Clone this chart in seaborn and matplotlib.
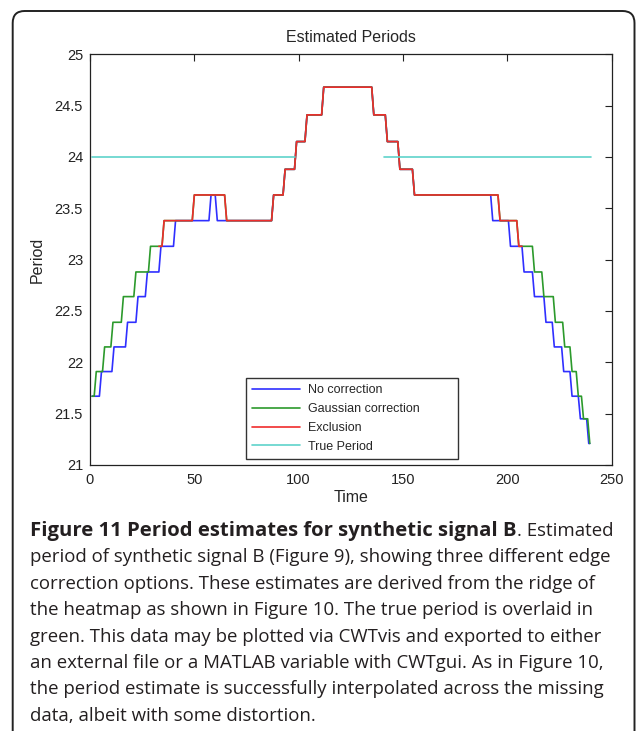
import numpy as np
import pandas as pd
import matplotlib
matplotlib.use("Agg")
import matplotlib.pyplot as plt
import seaborn as sns
from matplotlib.patches import FancyBboxPatch
from matplotlib.transforms import IdentityTransform
from matplotlib.ticker import FormatStrFormatter

# step estimates: each level holds from TIME[i] until TIME[i+1]
NOCORR_TIME = [1, 4.5, 10.5, 17, 22, 26.5, 33, 40, 57, 60, 87, 92.5, 98, 103, 111,
               135, 141.5, 147.5, 154.5, 192, 200.5, 207, 212, 217.5, 221.5, 226,
               230, 234, 238, 239.5]
NOCORR_PERIOD = [21.67, 21.91, 22.15, 22.39, 22.64, 22.88, 23.13, 23.38, 23.63, 23.38,
                 23.63, 23.88, 24.15, 24.41, 24.68, 24.41, 24.15, 23.88, 23.63, 23.38,
                 23.13, 22.88, 22.64, 22.39, 22.15, 21.91, 21.67, 21.45, 21.21]

GAUSS_TIME = [1, 2, 6, 10, 15, 21, 28, 34.5, 49, 64.5, 87, 92.5, 98, 103, 111,
              135, 141.5, 147.5, 154.5, 195.5, 204.5, 212, 216.5, 222, 226.5, 230,
              233, 235.5, 238.5, 239.5]
GAUSS_PERIOD = NOCORR_PERIOD[:8] + [23.63, 23.38] + NOCORR_PERIOD[10:]

EXCL_TIME = [33, 34.5, 49, 64.5, 87, 92.5, 98, 103, 111, 135, 141.5, 147.5, 154.5,
             195.5, 204.5, 207]
EXCL_PERIOD = [23.13, 23.38, 23.63, 23.38, 23.63, 23.88, 24.15, 24.41, 24.68, 24.41,
               24.15, 23.88, 23.63, 23.38, 23.13]

TRUE_SPANS = [(1, 98), (141, 240)]
TRUE_PERIOD = 24.0

SERIES = ["No correction", "Gaussian correction", "Exclusion", "True Period"]
COLORS = ["#2f2fff", "#2c9a2c", "#f02c2c", "#5fd3cb"]

CAPTION_BOLD = "Figure 11 Period estimates for synthetic signal B"
CAPTION_LINES = [
    ". Estimated",
    "period of synthetic signal B (Figure 9), showing three different edge",
    "correction options. These estimates are derived from the ridge of",
    "the heatmap as shown in Figure 10. The true period is overlaid in",
    "green. This data may be plotted via CWTvis and exported to either",
    "an external file or a MATLAB variable with CWTgui. As in Figure 10,",
    "the period estimate is successfully interpolated across the missing",
    "data, albeit with some distortion.",
]


def expand(times, levels, ramp=1.0):
    xs, ys = [times[0]], [levels[0]]
    for i in range(1, len(levels)):
        xs += [times[i], times[i] + ramp]
        ys += [levels[i - 1], levels[i]]
    xs.append(times[-1])
    ys.append(levels[-1])
    return xs, ys


rows = []
for name, t, p in [(SERIES[0], NOCORR_TIME, NOCORR_PERIOD),
                   (SERIES[1], GAUSS_TIME, GAUSS_PERIOD),
                   (SERIES[2], EXCL_TIME, EXCL_PERIOD)]:
    xs, ys = expand(t, p)
    rows += [(x, y, name, name) for x, y in zip(xs, ys)]
for k, (a, b) in enumerate(TRUE_SPANS):
    rows += [(a, TRUE_PERIOD, SERIES[3], f"true{k}"), (b, TRUE_PERIOD, SERIES[3], f"true{k}")]
df = pd.DataFrame(rows, columns=["time", "period", "series", "segment"])

sns.set_style("white")
plt.rcParams["font.family"] = ["Liberation Sans", "DejaVu Sans"]

W, H = 637, 731
fig = plt.figure(figsize=(W / 100, H / 100), dpi=100)
ax = fig.add_axes([90 / W, 1 - 465 / H, (611.7 - 90) / W, (465 - 54.3) / H])

sns.lineplot(data=df, x="time", y="period", hue="series", units="segment",
             estimator=None, sort=False, hue_order=SERIES,
             palette=dict(zip(SERIES, COLORS)), linewidth=1.2, ax=ax)

ax.set_xlim(0, 250)
ax.set_ylim(21, 25)
ax.set_xticks(np.arange(0, 251, 50))
ax.set_yticks(np.arange(21, 25.01, 0.5))
ax.yaxis.set_major_formatter(FormatStrFormatter("%g"))
ax.tick_params(direction="in", length=5, width=0.8, top=True, right=True,
               labelsize=10.5, colors="#222222")
ax.tick_params(axis="x", pad=6)
ax.tick_params(axis="y", pad=5)
for s in ax.spines.values():
    s.set_color("#222222")
    s.set_linewidth(0.9)
ax.set_title("Estimated Periods", fontsize=11.5, pad=9)
ax.set_xlabel("Time", fontsize=11.5, labelpad=2)
ax.set_ylabel("Period", fontsize=11.5, labelpad=7)

sns.move_legend(ax, "lower left", bbox_to_anchor=(0.299, 0.0146, 0.406, 0.2),
                mode="expand", borderaxespad=0, title=None, frameon=True,
                fancybox=False, framealpha=1, edgecolor="#333333", fontsize=9,
                handlelength=3.8, handletextpad=0.65, labelspacing=0.55,
                borderpad=0.5)
ax.get_legend().get_frame().set_linewidth(1.0)

# rounded figure frame, running off the bottom edge
frame = FancyBboxPatch((12.7, -30), 634.5 - 12.7, H - 11 + 30,
                       boxstyle="round,pad=0,rounding_size=12",
                       transform=IdentityTransform(), fill=False,
                       edgecolor="#222222", linewidth=1.4)
fig.patches.append(frame)

# caption, sized so the lines span the same widths as the original
cap_font = ["Open Sans", "DejaVu Sans"]
renderer = fig.canvas.get_renderer()


def fit_size(text, target, **kw):
    probe = fig.text(0, 0, text, fontsize=14, family=cap_font, **kw)
    w = probe.get_window_extent(renderer=renderer).width
    probe.remove()
    return 14 * target / w


fs = fit_size(CAPTION_LINES[1], 585)
fs_bold = fit_size(CAPTION_BOLD, 487, weight="bold")

x0 = 30 / W
base0 = 536
step = 26.4
bold = fig.text(x0, 1 - base0 / H, CAPTION_BOLD, fontsize=fs_bold, family=cap_font,
                weight="bold", va="baseline", color="#231f20")
ax.annotate(CAPTION_LINES[0], xy=(1, 1 - base0 / H), xycoords=(bold, "figure fraction"),
            fontsize=fs, family=cap_font, va="baseline", ha="left", color="#231f20",
            annotation_clip=False)
for i, line in enumerate(CAPTION_LINES[1:], start=1):
    fig.text(x0, 1 - (base0 + step * i) / H, line, fontsize=fs, family=cap_font,
             va="baseline", color="#231f20")

fig.savefig("out.png", dpi=100)
